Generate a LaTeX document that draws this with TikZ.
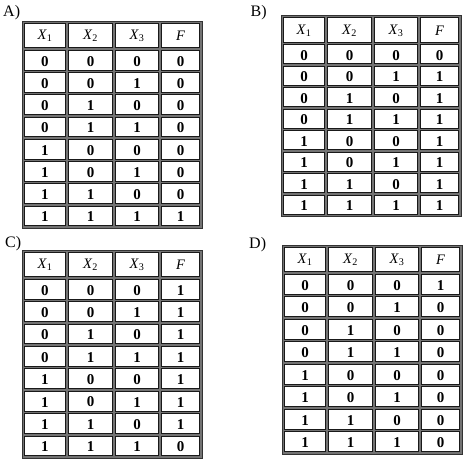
\documentclass[tikz,border=0pt]{standalone}
\usepackage{fontspec}
\setmainfont{Liberation Serif}
\begin{document}
\begin{tikzpicture}[x=1pt,y=-1pt,
frame/.style={draw=black!80, fill=black!55, line width=1pt},
cell/.style={draw=black!90, fill=white, line width=0.8pt},
val/.style={font=\fontsize{15}{17}\bfseries\selectfont, inner sep=0pt},
head/.style={font=\fontsize{14.5}{16}\selectfont, inner sep=0pt},
tag/.style={font=\fontsize{16}{18}\selectfont, inner sep=0pt, anchor=base west},
rowh/.store in=\rowh, rowh=22.5,
truthtab/.pic={
  \pgfmathsetmacro\tabb{28+8*\rowh}
  \draw[frame] (0,0) rectangle (180,\tabb+1);
  \foreach \xa/\xb/\hd [count=\c] in {1/45/{\textit{X}\textsubscript{1}},45/92/{\textit{X}\textsubscript{2}},
      92/138/{\textit{X}\textsubscript{3}},138/179/{\textit{F}}}{
    \draw[cell] (\xa+1.3,2.3) rectangle (\xb-1.3,26.7);
    \node[head] (-h\c) at ({(\xa+\xb)/2},15) {\hd};
  }
  \foreach \f [count=\r] in {#1}{
    \pgfmathsetmacro\ya{28+(\r-1)*\rowh}
    \foreach \xa/\xb [count=\c] in {1/45,45/92,92/138,138/179}{
      \pgfmathtruncatemacro\bit{mod(int((\r-1)/pow(2,3-\c)),2)}
      \draw[cell] (\xa+1.3,\ya+1.3) rectangle (\xb-1.3,\ya+\rowh-1.3);
      \node[val] (-v\r-\c) at ({(\xa+\xb)/2},\ya+\rowh/2+1) {\ifnum\c=4 \f\else\bit\fi};
    }
  }}
]
\useasboundingbox (0,0) rectangle (464,461);
\path
  (22,21) pic[rowh=22.25] (tabA) {truthtab={0,0,0,0,0,0,0,1}}
  (281,15.5) pic[rowh=21.5] (tabB) {truthtab={0,1,1,1,1,1,1,1}}
  (22,250) pic[rowh=22.375] (tabC) {truthtab={1,1,1,1,1,1,1,0}}
  (282,245) pic[rowh=22.5] (tabD) {truthtab={1,0,0,0,0,0,0,0}};

\node[tag] (lA) at (3,16.7) {A)};
\node[tag] (lB) at (250.5,16.7) {B)};
\node[tag] (lC) at (5,247.7) {C)};
\node[tag] (lD) at (249,248) {D)};

\end{tikzpicture}
\end{document}
